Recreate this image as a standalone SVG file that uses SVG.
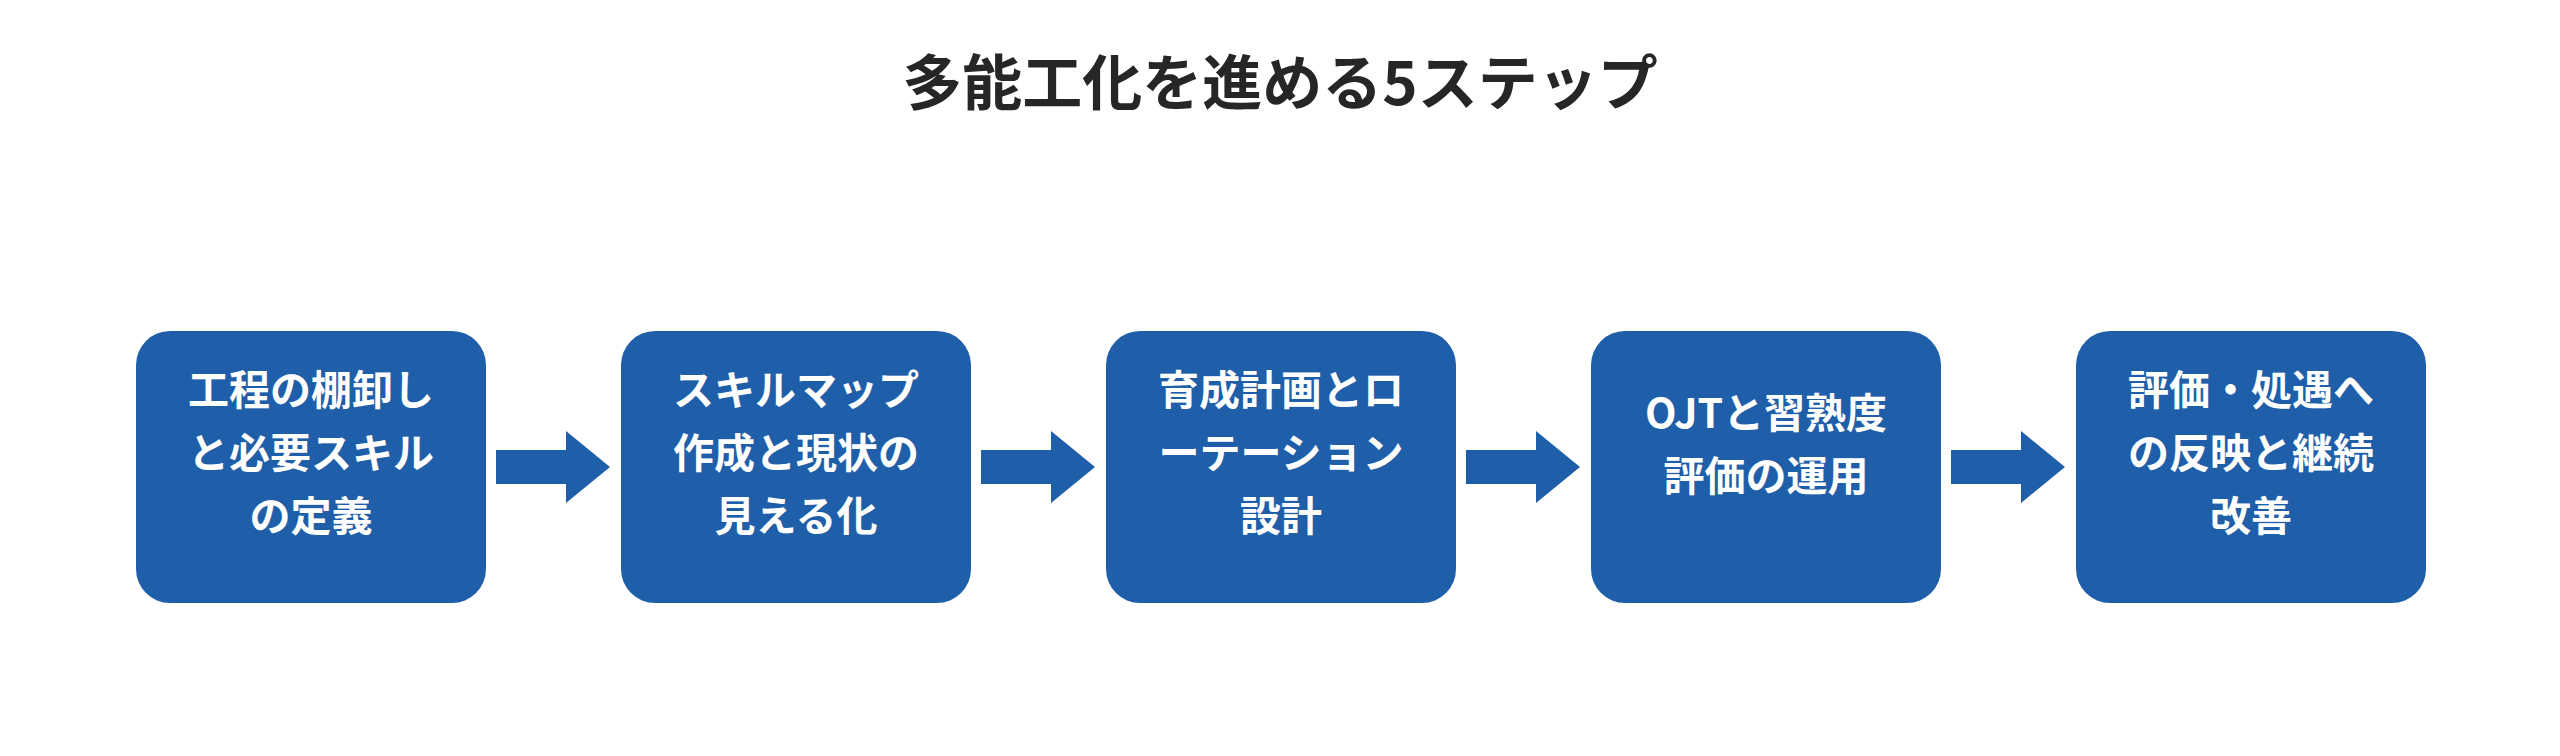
<svg xmlns="http://www.w3.org/2000/svg" width="2560" height="756" viewBox="0 0 2560 756">
<style>
.box{fill:#1F5EA8}
.arr{fill:#1F5EA8}
.t{font-family:"Noto Sans CJK JP","Noto Sans",sans-serif;font-weight:bold;fill:#fff;font-size:41px;text-anchor:middle;dominant-baseline:central}
.title{font-family:"Noto Sans CJK JP","Noto Sans",sans-serif;font-weight:bold;fill:#262626;font-size:60px;text-anchor:middle;dominant-baseline:central}
</style>
<rect width="2560" height="756" fill="#fff"/>
<text class="title" x="1280" y="78">多能工化を進める5ステップ</text>
<g id="connectors">
<polygon class="arr" points="496,450 566,450 566,431 610,467 566,503 566,484 496,484"/>
<polygon class="arr" transform="translate(485,0)" points="496,450 566,450 566,431 610,467 566,503 566,484 496,484"/>
<polygon class="arr" transform="translate(970,0)" points="496,450 566,450 566,431 610,467 566,503 566,484 496,484"/>
<polygon class="arr" transform="translate(1455,0)" points="496,450 566,450 566,431 610,467 566,503 566,484 496,484"/>
</g>
<g id="n1"><rect class="box" x="136" y="331" width="350" height="272" rx="34"/>
<text class="t" x="311" y="387">工程の棚卸し</text><text class="t" x="311" y="450">と必要スキル</text><text class="t" x="311" y="513">の定義</text></g>
<g id="n2"><rect class="box" x="621" y="331" width="350" height="272" rx="34"/>
<text class="t" x="796" y="387">スキルマップ</text><text class="t" x="796" y="450">作成と現状の</text><text class="t" x="796" y="513">見える化</text></g>
<g id="n3"><rect class="box" x="1106" y="331" width="350" height="272" rx="34"/>
<text class="t" x="1281" y="387">育成計画とロ</text><text class="t" x="1281" y="450">ーテーション</text><text class="t" x="1281" y="513">設計</text></g>
<g id="n4"><rect class="box" x="1591" y="331" width="350" height="272" rx="34"/>
<text class="t" x="1766" y="410">OJTと習熟度</text><text class="t" x="1766" y="473">評価の運用</text></g>
<g id="n5"><rect class="box" x="2076" y="331" width="350" height="272" rx="34"/>
<text class="t" x="2251" y="387">評価・処遇へ</text><text class="t" x="2251" y="450">の反映と継続</text><text class="t" x="2251" y="513">改善</text></g>
</svg>
